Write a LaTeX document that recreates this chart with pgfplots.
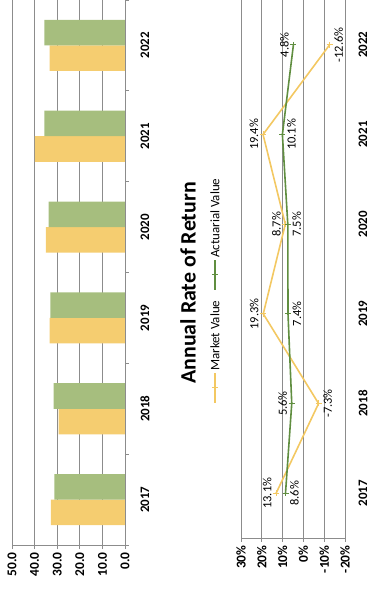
\documentclass[border=0pt]{standalone}
\usepackage{fontspec}
\setmainfont{Carlito}
\usepackage{pgfplots}
\usepackage{pgfplotstable}
\pgfplotsset{compat=1.18}

\definecolor{mvbar}{RGB}{245,205,112}
\definecolor{avbar}{RGB}{166,190,126}
\definecolor{mvline}{RGB}{243,200,98}
\definecolor{avline}{RGB}{96,142,64}
\definecolor{gridgray}{RGB}{140,140,140}

% Assets by year (market value / actuarial value)
\pgfplotstableread{
idx mv av
0 32.8 31.3
1 29.4 31.6
2 33.3 33.0
3 35.0 33.8
4 39.9 35.7
5 33.4 35.7
}\assets

% Annual rate of return, market value basis (anc = label side)
\pgfplotstableread{
idx ret anc
0 13.1 south
1 -7.3 north
2 19.3 south
3 8.7 south
4 19.4 south
5 -12.6 north
}\marketret

% Annual rate of return, actuarial value basis
\pgfplotstableread{
idx ret anc
0 8.6 north
1 5.6 south
2 7.4 north
3 7.5 north
4 10.1 north
5 4.8 south
}\actuarialret

\begin{document}
\begin{tikzpicture}
\useasboundingbox (0bp,0bp) rectangle (372bp,592bp);
\pgfplotsset{
  sideways/.style={
    scale only axis,
    anchor=south west,
    /pgf/number format/assume math mode=true,
    x dir=reverse,
    ymin=-0.5, ymax=5.5,
    ytick={0,...,5},
    yticklabels={2017,2018,2019,2020,2021,2022},
    yticklabel pos=right,
    ytick pos=right,
    major y tick style={draw=none},
    tick align=outside,
    major tick length=4bp,
    minor tick length=4bp,
    xmajorgrids,
    grid style={gridgray, line width=0.7bp},
    axis line style={gridgray, line width=0.8bp},
    tick style={gridgray, line width=0.7bp},
    axis x line*=bottom,
    axis y line*=right,
    xticklabel style={font=\bfseries\fontsize{13.5}{15}\selectfont, black, rotate=90, anchor=east},
    yticklabel style={font=\bfseries\fontsize{13}{15}\selectfont, black, rotate=90, anchor=north},
  },
  pctlabels/.style={
    forget plot, draw=none, mark=none,
    point meta=explicit symbolic,
    nodes near coords={\pgfmathprintnumber[fixed,fixed zerofill,precision=1]{\pgfkeysvalueof{/data point/x}}\%},
    every node near coord/.append style={font=\fontsize{12.5}{14}\selectfont,
      black, inner sep=4.5bp, rotate=90, anchor=\pgfplotspointmeta},
  },
  retline/.style={line width=1.6bp, mark=+, mark size=3bp, mark options={line width=1bp}},
}

% Asset values
\begin{axis}[sideways,
  at={(12bp,47bp)}, width=113bp, height=545bp,
  xbar=0pt, bar width=25.5bp,
  xmin=0, xmax=50, xtick={0,10,...,50},
  xticklabel={\pgfmathprintnumber[fixed,fixed zerofill,precision=1]{\tick}},
  minor ytick={-0.5,0.5,...,5.5},
  yticklabel shift=8bp,
]
\addplot[fill=mvbar, draw=none] table[x=mv, y=idx] {\assets};
\addplot[fill=avbar, draw=none] table[x=av, y=idx] {\assets};
\end{axis}

% Rates of return
\begin{axis}[sideways,
  at={(241bp,54bp)}, width=104bp, height=538bp,
  xmin=-20, xmax=30, xtick={-20,-10,...,30},
  xticklabel={\pgfmathprintnumber{\tick}\%},
  yticklabel shift=6bp,
]
\addplot[mvline, retline] table[x=ret, y=idx] {\marketret};
\addplot[avline, retline] table[x=ret, y=idx] {\actuarialret};
\addplot[pctlabels] table[x=ret, y=idx, meta=anc] {\marketret};
\addplot[pctlabels] table[x=ret, y=idx, meta=anc] {\actuarialret};
\end{axis}

% Title and legend, set sideways like the axes
\node[rotate=90, font=\bfseries\fontsize{22}{26}\selectfont] at (188bp,309bp) {Annual Rate of Return};
\begin{scope}[line width=1.6bp]
  \draw[mvline] (215bp,189bp) -- (215bp,219bp);
  \draw[mvline, line width=1bp] (212bp,204bp) -- (218bp,204bp);
  \node[rotate=90, anchor=west, inner sep=1.5bp, font=\fontsize{13}{15}\selectfont]
    at (215bp,219bp) {Market Value};
  \draw[avline] (215bp,302bp) -- (215bp,332bp);
  \draw[avline, line width=1bp] (212bp,317bp) -- (218bp,317bp);
  \node[rotate=90, anchor=west, inner sep=1.5bp, font=\fontsize{13}{15}\selectfont]
    at (215bp,332bp) {Actuarial Value};
\end{scope}
\end{tikzpicture}
\end{document}
